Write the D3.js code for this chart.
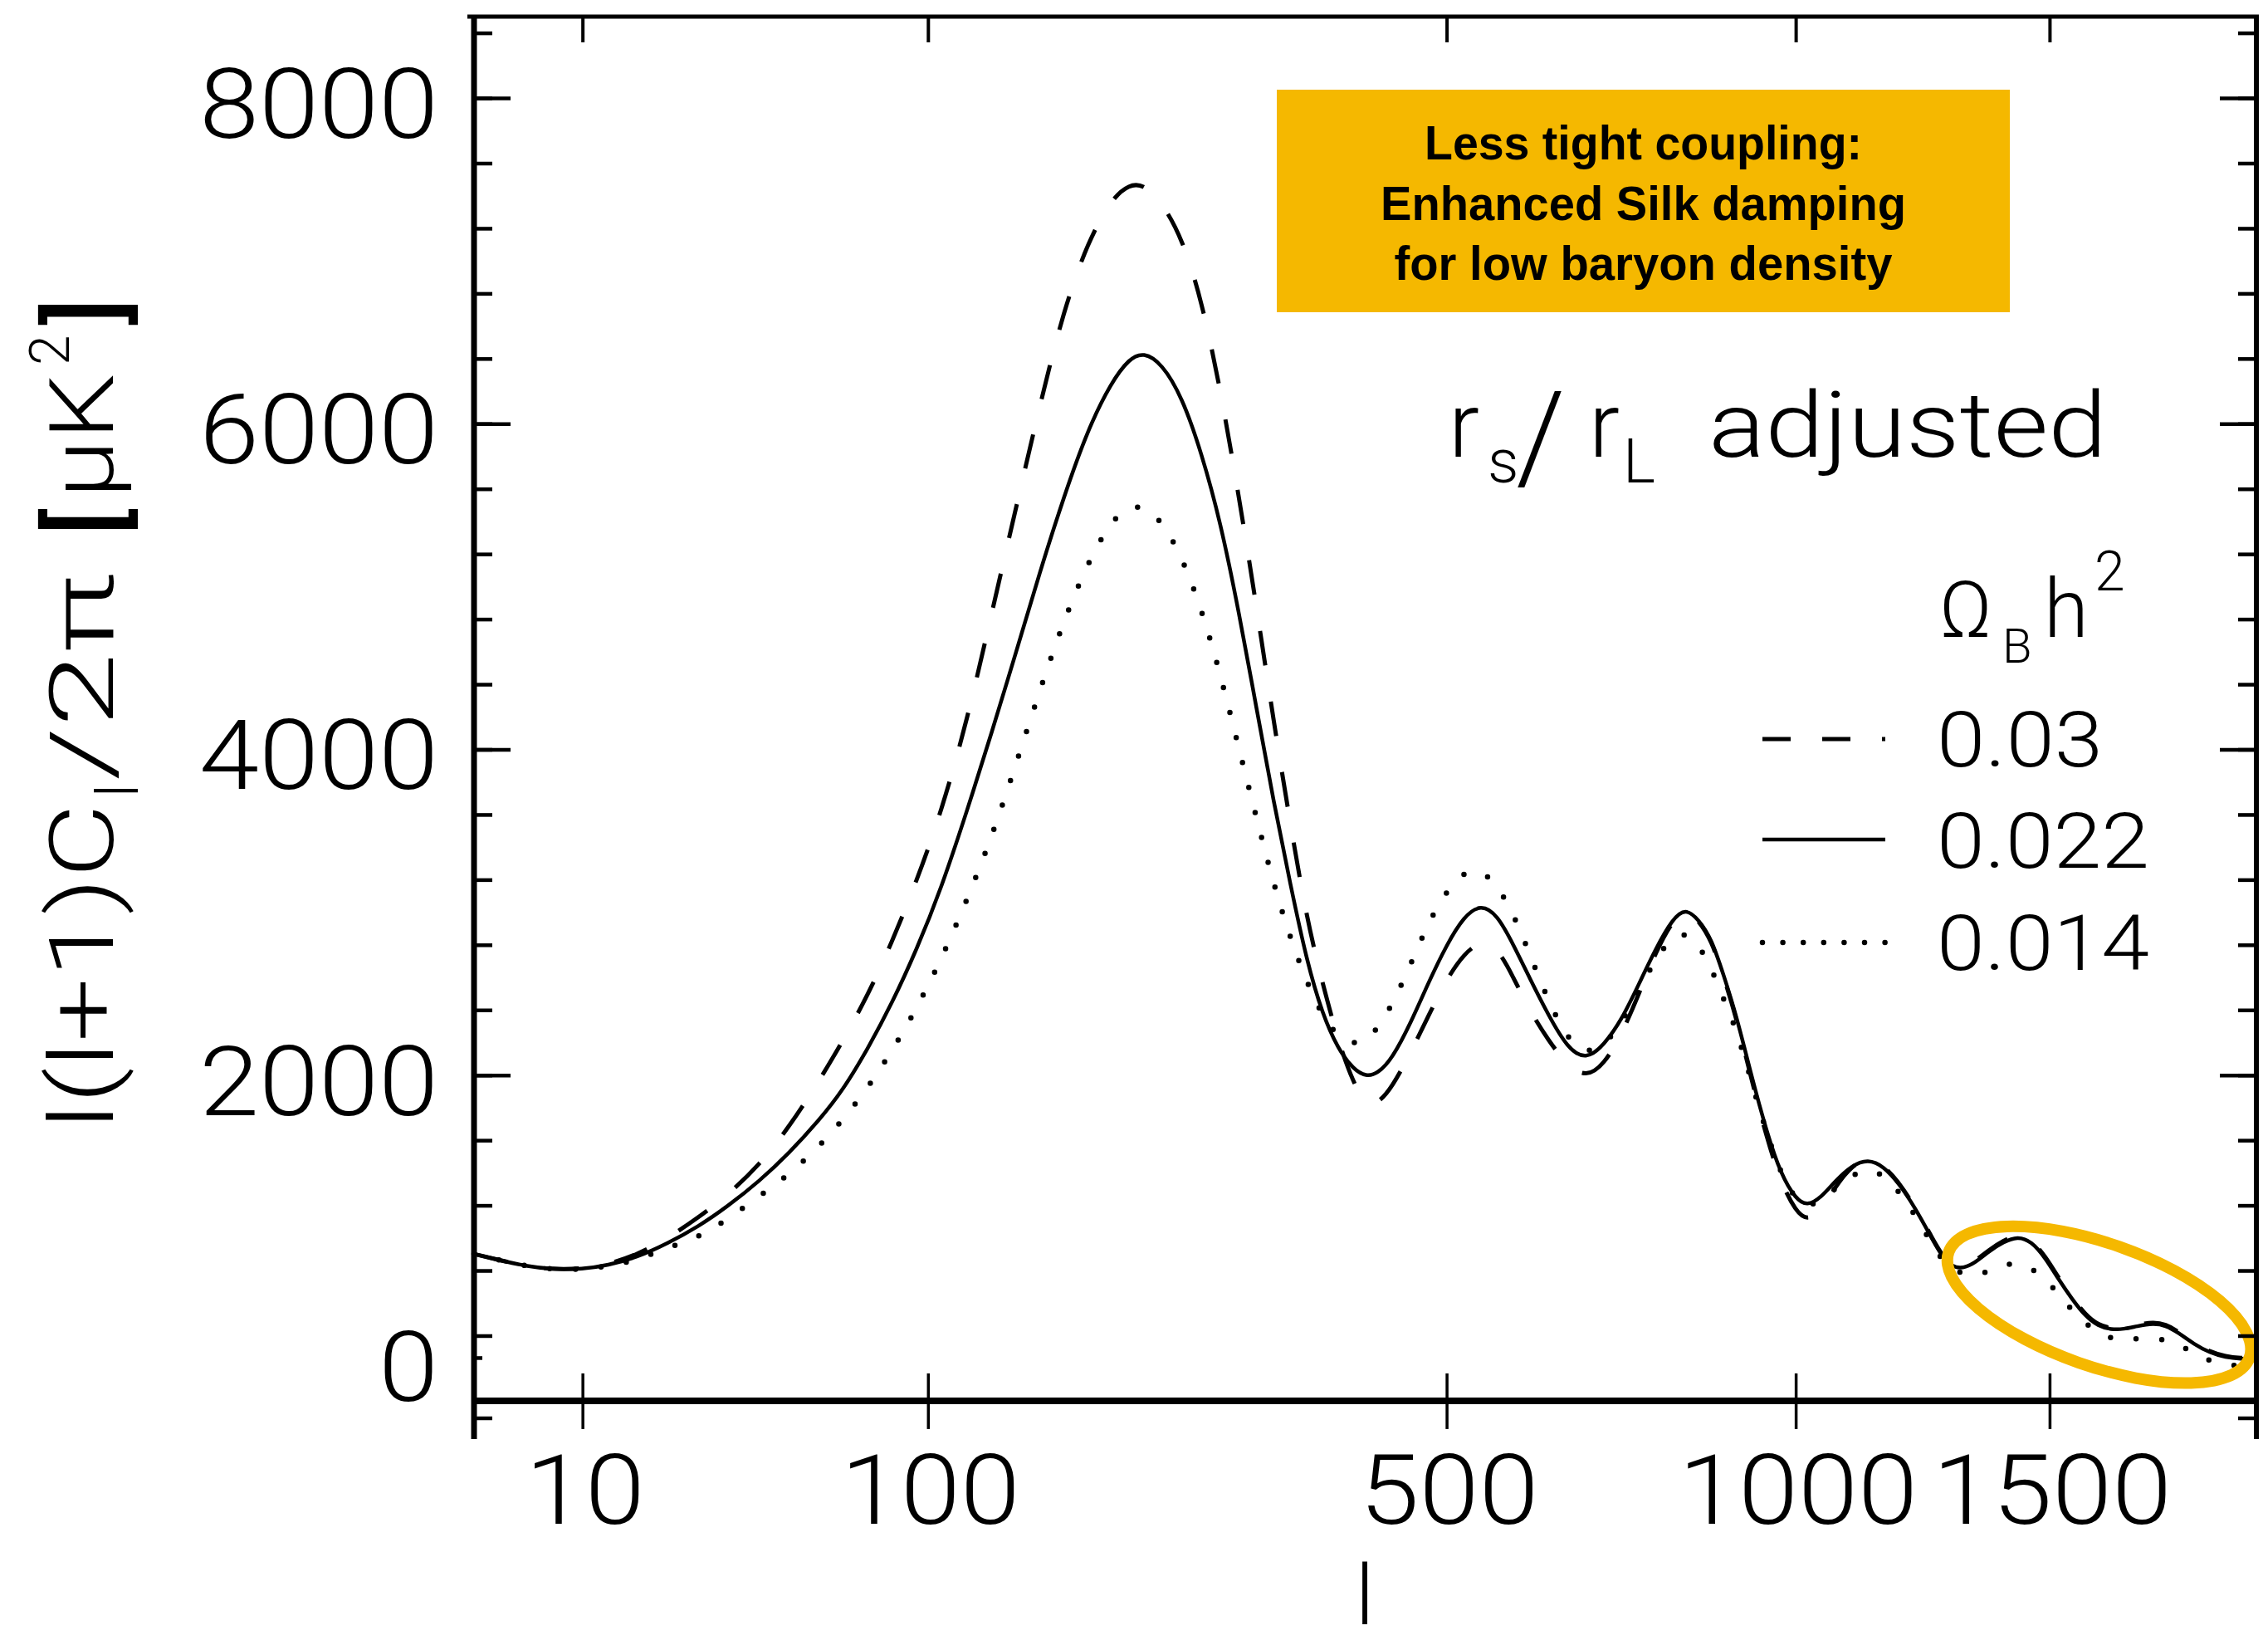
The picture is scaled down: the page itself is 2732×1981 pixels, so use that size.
<!DOCTYPE html>
<html><head><meta charset="utf-8">
<script src="https://cdn.jsdelivr.net/npm/d3@7"></script>
<style>
html,body{margin:0;padding:0;background:#fff;}
svg{display:block;}
</style></head><body>
<svg id="chart" width="2732" height="1981"></svg>
<script>
// ---------------- data ----------------
const ells = [2,3,5,7,10,13,17,22,28,34,42,50,59,67,76,85,95,106,118,130,143,156,170,185,200,212,222,235,250,265,280,295,310,325,340,355,370,385,400,413,425,440,460,480,500,520,540,560,580,600,625,650,675,700,725,750,775,800,820,840,860,880,900,925,950,975,1000,1020,1045,1070,1100,1130,1160,1190,1220,1250,1280,1310,1340,1370,1400,1430,1460,1490,1520,1550,1580,1610,1640,1670,1700,1740,1770,1800,1840,1880,1920,1960,2000];

// Omega_B h^2 = 0.03 (dashed)
const dashed003 = [902,870,825,808,810,838,895,995,1128,1258,1450,1680,1960,2212,2495,2815,3185,3620,4180,4830,5490,6110,6700,7120,7380,7470,7470,7360,7140,6760,6210,5560,4880,4170,3540,2960,2560,2210,1950,1820,1825,1925,2140,2370,2590,2745,2825,2785,2600,2400,2210,2060,1985,2065,2250,2500,2760,2950,3020,2950,2830,2600,2355,1975,1620,1335,1165,1105,1170,1315,1445,1490,1445,1335,1190,1022,852,812,855,928,985,1020,990,890,755,635,530,465,445,448,466,484,470,428,355,302,272,262,260];

// Omega_B h^2 = 0.022 (solid)
const solid0022 = [902,870,825,808,808,832,880,965,1072,1190,1350,1520,1720,1907,2167,2439,2765,3150,3627,4098,4600,5087,5550,5970,6255,6400,6440,6370,6165,5820,5398,4850,4255,3675,3170,2700,2370,2160,2035,1990,2010,2100,2320,2575,2800,2975,3050,2985,2800,2600,2365,2165,2092,2185,2340,2560,2780,2960,3025,2955,2840,2610,2370,1995,1655,1385,1240,1195,1250,1350,1445,1485,1440,1330,1185,1015,845,805,845,920,975,1010,980,880,745,625,520,458,437,440,458,476,463,420,348,295,266,257,256];

// Omega_B h^2 = 0.014 (dotted)
const dotted0014 = [902,870,825,808,806,826,862,940,1005,1112,1258,1388,1560,1726,1927,2146,2406,2712,3080,3456,3913,4362,4790,5150,5405,5492,5490,5405,5180,4860,4460,4010,3580,3170,2840,2570,2360,2235,2190,2210,2290,2430,2680,2945,3130,3250,3262,3165,2990,2750,2450,2220,2132,2180,2320,2520,2720,2850,2875,2800,2660,2460,2285,1960,1645,1390,1235,1190,1228,1305,1385,1428,1385,1280,1140,980,830,785,766,798,836,845,815,750,655,555,475,420,382,375,382,382,375,345,295,242,225,212,205];

const seriesLabels = ["0.03","0.022","0.014"];
const xTickValues = [10,100,500,1000,1500];
const xTickLabels = ["10","100","500","1000","1500"];
const yMajorTicks = [0,2000,4000,6000,8000];
const yTickLabels = ["0","2000","4000","6000","8000"];
const yMinorTicks = [-105,0,400,800,1200,1600,2000,2400,2800,3200,3600,4000,4400,4800,5200,5600,6000,6400,6800,7200,7600,8000,8400];
const yStrayTicks = [265];
const highlight = {l:1612, v:590};

// ---------------- layout ----------------
const svg = d3.select("#chart");
const L = 571, R = 2718, T = 20, B = 1733;
const x = d3.scalePow().exponent(0.4).domain([2,2000]).range([L,R]);
const y = d3.scaleLinear().domain([-235,8500]).range([B,T]);
const thin = "Roboto, 'Open Sans', 'DejaVu Sans', sans-serif";
const orange = "#F5B800";

svg.append("rect").attr("width",2732).attr("height",1981).attr("fill","#fff");

// annotation box
const box = {x:1538, y:108, w:883, h:268};
svg.append("rect").attr("x",box.x).attr("y",box.y).attr("width",box.w).attr("height",box.h).attr("fill",orange);
const boxLines = [
  {t:"Less tight coupling:", y:192, w:527},
  {t:"Enhanced Silk damping", y:265, w:633},
  {t:"for low baryon density", y:337, w:600}
];
boxLines.forEach(d=>{
  svg.append("text").attr("x",box.x+box.w/2 - d.w/2).attr("y",d.y)
    .attr("font-family","'Liberation Sans Narrow','Liberation Sans',Arial,sans-serif")
    .attr("font-weight",700).attr("font-size",57).attr("fill","#000")
    .attr("textLength",d.w).attr("lengthAdjust","spacingAndGlyphs").text(d.t);
});

// curves
const series = [
  {label:seriesLabels[0], vals:dashed003, dash:"42,44", cap:"butt", w:5},
  {label:seriesLabels[1], vals:solid0022, dash:null, cap:"round", w:4.5},
  {label:seriesLabels[2], vals:dotted0014, dash:"0,31", cap:"round", w:6.5}
];
const line = d3.line().x(d=>x(d[0])).y(d=>y(d[1])).curve(d3.curveBasis);
series.forEach(s=>{
  const pts = ells.map((l,i)=>[l,s.vals[i]]);
  svg.append("path").attr("d",line(pts)).attr("fill","none").attr("stroke","#000")
    .attr("stroke-width",s.w).attr("stroke-linecap",s.cap).attr("stroke-linejoin","round")
    .attr("stroke-dasharray",s.dash);
});

// highlight ellipse
svg.append("ellipse").attr("cx",0).attr("cy",0).attr("rx",192).attr("ry",74)
  .attr("transform",`translate(${x(highlight.l)},${y(highlight.v)}) rotate(19.3)`)
  .attr("fill","none").attr("stroke",orange).attr("stroke-width",14);

// axes
function styleAxis(g, w){ g.select(".domain").remove(); g.selectAll(".tick line").attr("stroke","#000").attr("stroke-width",w); g.selectAll(".tick text").remove(); }
svg.append("g").attr("transform",`translate(${L},0)`).call(d3.axisRight(y).tickValues(yMinorTicks).tickSize(22)).call(g=>styleAxis(g,4.5));
svg.append("g").attr("transform",`translate(${L},0)`).call(d3.axisRight(y).tickValues(yMajorTicks).tickSize(44)).call(g=>styleAxis(g,4.5));
svg.append("g").attr("transform",`translate(${L},0)`).call(d3.axisRight(y).tickValues(yStrayTicks).tickSize(10)).call(g=>styleAxis(g,4.5));
svg.append("g").attr("transform",`translate(${R},0)`).call(d3.axisLeft(y).tickValues(yMinorTicks).tickSize(22)).call(g=>styleAxis(g,4.5));
svg.append("g").attr("transform",`translate(${R},0)`).call(d3.axisLeft(y).tickValues(yMajorTicks).tickSize(44)).call(g=>styleAxis(g,4.5));
svg.append("g").attr("transform",`translate(0,${T})`).call(d3.axisBottom(x).tickValues(xTickValues).tickSize(31)).call(g=>styleAxis(g,4));
svg.append("g").attr("transform",`translate(0,${y(0)})`).call(d3.axisBottom(x).tickValues(xTickValues).tickSize(34)).call(g=>styleAxis(g,3.5));
svg.append("g").attr("transform",`translate(0,${y(0)})`).call(d3.axisTop(x).tickValues(xTickValues).tickSize(33)).call(g=>styleAxis(g,3.5));

// frame lines
svg.append("line").attr("x1",L).attr("x2",L).attr("y1",T-2).attr("y2",B).attr("stroke","#000").attr("stroke-width",7);
svg.append("line").attr("x1",R).attr("x2",R).attr("y1",T-2).attr("y2",B).attr("stroke","#000").attr("stroke-width",6);
svg.append("line").attr("x1",L-8).attr("x2",R+3).attr("y1",T).attr("y2",T).attr("stroke","#000").attr("stroke-width",5);
svg.append("line").attr("x1",L).attr("x2",R).attr("y1",y(0)).attr("y2",y(0)).attr("stroke","#000").attr("stroke-width",8);

// tick labels
const numStyle = s=>s.attr("font-family",thin).attr("font-weight",300).attr("fill","#000").attr("lengthAdjust","spacingAndGlyphs");
yMajorTicks.forEach((v,i)=>{
  const t = yTickLabels[i]; const w = 72*t.length;
  const base = v===0 ? y(0) : y(v)+48;
  svg.append("text").call(numStyle).attr("font-size",116).attr("x",528-w).attr("y",base)
    .attr("textLength",w).text(t);
});
xTickValues.forEach((v,i)=>{
  const t = xTickLabels[i]; const w = 72*t.length;
  svg.append("text").call(numStyle).attr("font-size",116).attr("x",x(v)-w/2+3).attr("y",1835)
    .attr("textLength",w).text(t);
});

// x title
svg.append("text").attr("font-family",thin).attr("font-weight",300).attr("font-size",100)
  .attr("x",1644).attr("y",1956).attr("text-anchor","middle").text("l");

// y title (rotated pieces)
const yt = svg.append("g").attr("transform","translate(136,0) rotate(-90)").attr("font-family",thin).attr("font-weight",300).attr("fill","#000");
yt.append("text").attr("x",-1360).attr("y",0).attr("font-size",108).attr("textLength",392).attr("lengthAdjust","spacingAndGlyphs").text("l(l+1)C");
yt.append("text").attr("x",-960).attr("y",30).attr("font-size",70).text("l");
yt.append("text").attr("x",-940).attr("y",0).attr("font-size",108).attr("textLength",250).attr("lengthAdjust","spacingAndGlyphs").text("/2π");
yt.append("text").attr("x",-645).attr("y",10).attr("font-size",122).attr("font-weight",500).text("[");
yt.append("text").attr("x",-600).attr("y",0).attr("font-size",108).attr("textLength",150).attr("lengthAdjust","spacingAndGlyphs").text("μK");
yt.append("text").attr("x",-440).attr("y",-53).attr("font-size",66).text("2");
yt.append("text").attr("x",-392).attr("y",10).attr("font-size",122).attr("font-weight",500).text("]");

// r_s / r_L adjusted
const tg = svg.append("g").attr("font-family",thin).attr("font-weight",300).attr("fill","#000");
tg.append("text").attr("x",1745).attr("y",550).attr("font-size",110).text("r");
tg.append("text").attr("x",1792).attr("y",581).attr("font-size",74).text("s");
tg.append("text").attr("x",1826).attr("y",578).attr("font-size",150).text("/");
tg.append("text").attr("x",1914).attr("y",550).attr("font-size",110).text("r");
tg.append("text").attr("x",1955).attr("y",581).attr("font-size",74).text("L");
tg.append("text").attr("x",2058).attr("y",550).attr("font-size",110).attr("textLength",480).attr("lengthAdjust","spacingAndGlyphs").text("adjusted");

// Omega_B h^2
tg.append("text").attr("x",2336).attr("y",767).attr("font-size",94).attr("textLength",64).attr("lengthAdjust","spacingAndGlyphs").text("Ω");
tg.append("text").attr("x",2412).attr("y",798).attr("font-size",58).text("B");
tg.append("text").attr("x",2462).attr("y",767).attr("font-size",98).text("h");
tg.append("text").attr("x",2523).attr("y",711).attr("font-size",66).text("2");

// legend
const legY = [890,1011,1135];
const legBase = [923,1045,1168];
const legW = [200,256,256];
const legDash = ["34,38", null, "0,24.6"];
series.forEach((s,i)=>{
  svg.append("line").attr("x1",2123).attr("x2",2271).attr("y1",legY[i]).attr("y2",legY[i])
    .attr("stroke","#000").attr("stroke-width",s.w).attr("stroke-linecap",i===2?"round":"butt")
    .attr("stroke-dasharray",legDash[i]);
  svg.append("text").call(numStyle).attr("font-size",93).attr("x",2333).attr("y",legBase[i])
    .attr("textLength",legW[i]).text(s.label);
});
</script>
</body></html>
